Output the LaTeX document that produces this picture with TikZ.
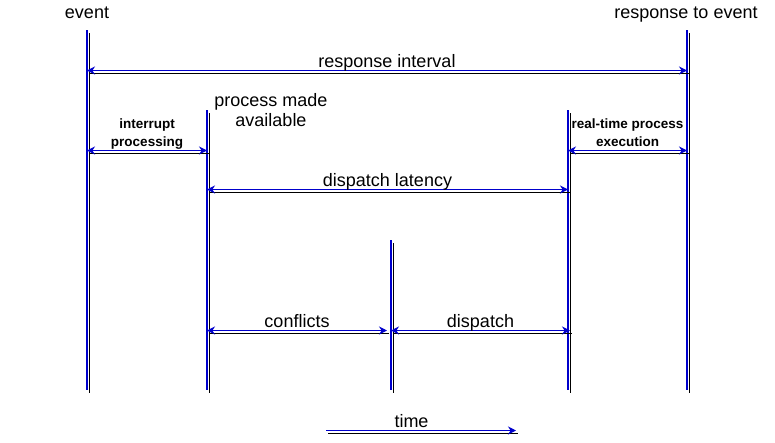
\documentclass[tikz,border=0pt]{standalone}
\usepackage{fontspec}
\setmainfont{Liberation Sans}
\usetikzlibrary{arrows.meta}
\definecolor{linecol}{RGB}{0,0,204}

\begin{document}
\begin{tikzpicture}[x=1pt,y=-1pt,
		tline/.style={draw=linecol,line width=1.2pt,preaction={draw=black,line width=1pt,-,transform canvas={shift={(2pt,-3pt)}}}},
		span/.style={tline,{Stealth[length=8pt,width=8pt]}-{Stealth[length=8pt,width=8pt]}},
		lbl/.style={font=\fontsize{18}{20}\selectfont,inner sep=0pt,text depth=0pt,align=center},
		small/.style={font=\bfseries\fontsize{13.5}{18}\selectfont,inner sep=0pt,text depth=0pt,align=center}]
	\useasboundingbox (0,0) rectangle (775,442);
	% time lines
	\coordinate (ev) at (87,30);
	\coordinate (av) at (207,110);
	\coordinate (md) at (391,240);
	\coordinate (rt) at (568,110);
	\coordinate (rs) at (687,30);
	\foreach \c in {ev,av,md,rt,rs}
		\draw[tline] (\c) -- (\c |- 0,390);
	\node[lbl,anchor=south] (evlbl) at (87,18.5) {event};
	\node[lbl,anchor=south] (rslbl) at (686,18.5) {response to event};
	\node[lbl,anchor=south] (avlbl) at (271,127) {process made\\available};
	% intervals
	\draw[span] (ev |- 0,70.5) -- node[lbl,above=2.5pt] (ri) {response interval} (rs |- 0,70.5);
	\draw[span] (ev |- 0,150.5) -- node[small,above=3pt] (ip) {interrupt\\processing} (av |- 0,150.5);
	\draw[span] (rt |- 0,150.5) -- node[small,above=3pt] (rp) {real-time process\\execution} (rs |- 0,150.5);
	\draw[span] (av |- 0,189.5) -- node[lbl,above=2.5pt] (dl) {dispatch latency} (rt |- 0,189.5);
	\draw[span] (av |- 0,330.5) -- node[lbl,above=2.5pt] (cf) {conflicts} ([xshift=-4pt]md |- 0,330.5);
	\draw[span] (md |- 0,330.5) -- node[lbl,above=2.5pt] (dp) {dispatch} ([xshift=2pt]rt |- 0,330.5);
	% time axis
	\coordinate (t0) at (326,430.5);
	\coordinate (t1) at (516,430.5);
	\draw[tline,-{Stealth[length=8pt,width=8pt]}] (t0) -- node[lbl,above=2.5pt,pos=0.45] (tm) {time} (t1);
\end{tikzpicture}
\end{document}
